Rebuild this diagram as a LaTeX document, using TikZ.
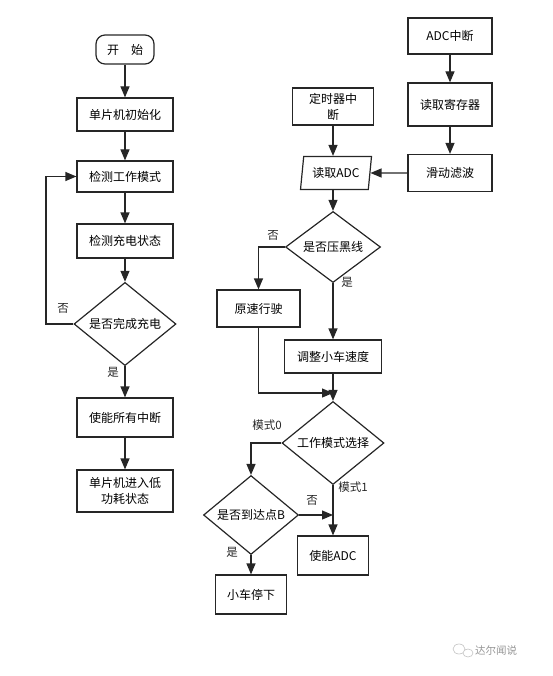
\documentclass[tikz,border=0pt]{standalone}
\usepackage{fontspec}
\setmainfont{Noto Sans CJK SC}
\usepackage{xcolor}
\usetikzlibrary{shapes.geometric, arrows.meta, positioning}
\definecolor{dark}{RGB}{38, 38, 38}
\definecolor{mark}{RGB}{150, 150, 150}
\tikzset{
    box/.style={rectangle, draw=dark, line width=1.2pt, align=center, font=\fontsize{12}{16}\selectfont, inner sep=2pt, minimum width=96pt},
    term/.style={box, rounded corners=9pt, minimum width=58pt, minimum height=29pt},
    dec/.style={diamond, draw=dark, line width=1.2pt, align=center, font=\fontsize{12}{16}\selectfont, inner sep=0pt},
    io/.style={trapezium, trapezium left angle=78, trapezium right angle=102, trapezium stretches body=true, draw=dark, line width=1.2pt, font=\fontsize{12}{16}\selectfont, inner xsep=1pt, inner ysep=2pt, minimum width=71pt, minimum height=33pt},
    lbl/.style={font=\fontsize{11.5}{14}\selectfont, text=dark},
    arr/.style={-{Triangle[length=11pt, width=9pt]}, line width=1.2pt, dark}
}
\begin{document}
\begin{tikzpicture}[x=1pt, y=-1pt]
    \useasboundingbox (0,0) rectangle (553,676);
    % left: charging
    \node[term] (start) at (125,49.5) {开\quad 始};
    \node[box, minimum height=33pt] (init) at (125,114.5) {单片机初始化};
    \node[box, minimum height=31pt] (mode) at (125,176.5) {检测工作模式};
    \node[box, minimum height=34pt] (charge) at (125,241) {检测充电状态};
    \node[dec, minimum width=102pt, minimum height=66pt] (done) at (125,324) {是否完成充电};
    \node[box, minimum height=39pt] (enint) at (125,417.5) {使能所有中断};
    \node[box, minimum height=42pt] (sleep) at (125,491) {单片机进入低\\功耗状态};
    \coordinate (loop) at (46,324);
    \draw[arr] (start)--(init); \draw[arr] (init)--(mode); \draw[arr] (mode)--(charge); \draw[arr] (charge)--(done);
    \draw[arr] (done.west)--(loop)|-(mode.west); \draw[arr] (done)--(enint); \draw[arr] (enint)--(sleep);
    \node[lbl] (no1) at (63,308) {否};
    \node[lbl] (yes1) at (113,372) {是};
    % right: interrupts
    \node[box, minimum width=84pt, minimum height=36pt] (adcint) at (450,36) {ADC中断};
    \node[box, minimum width=84pt, minimum height=43pt] (readreg) at (450,104.5) {读取寄存器};
    \node[box, minimum width=84pt, minimum height=37pt] (filter) at (450,173) {滑动滤波};
    \node[box, minimum width=81pt, minimum height=37pt] (timer) at (333,106.5) {定时器中\\断};
    \node[io] (readadc) at (336,173) {读取ADC};
    \node[dec, minimum width=95pt, minimum height=52pt] (line) at (333,247) {是否压黑线};
    \node[box, minimum width=83pt, minimum height=37pt] (keep) at (258.5,308.5) {原速行驶};
    \node[box, minimum width=97pt, minimum height=33pt] (adjust) at (333,356.5) {调整小车速度};
    \node[dec, minimum width=102pt, minimum height=52pt] (sel) at (333,443) {工作模式选择};
    \node[dec, minimum width=95pt, minimum height=60pt] (reach) at (251,515) {是否到达点B};
    \node[box, minimum width=71pt, minimum height=39pt] (enadc) at (333,555.5) {使能ADC};
    \node[box, minimum width=71pt, minimum height=39pt] (stop) at (251,594.5) {小车停下};
    \coordinate (merge) at (333,393);
    \coordinate (join) at (333,515);
    \draw[arr] (adcint)--(readreg); \draw[arr] (readreg)--(filter); \draw[arr] (filter)--(readadc.east);
    \draw[arr] (timer)--(timer|-readadc.north); \draw[arr] (readadc.south-|line)--(line);
    \draw[arr] (line.west)-|(keep); \draw[arr] (line)--(adjust); \draw[arr] (keep)|-(merge); \draw[arr] (adjust)--(sel);
    \draw[arr] (sel.west)-|(reach); \draw[arr] (sel)--(enadc); \draw[arr] (reach.east)--(join); \draw[arr] (reach)--(stop);
    \node[lbl] (no2) at (273,235) {否};
    \node[lbl] (yes2) at (347,282) {是};
    \node[lbl] (m0) at (267,425) {模式0};
    \node[lbl] (m1) at (353,487) {模式1};
    \node[lbl] (no3) at (312,500) {否};
    \node[lbl] (yes3) at (232,552) {是};
    % watermark
    \draw[mark!60, line width=0.6pt] (459,649) ellipse (6pt and 5pt) (468,653) ellipse (5pt and 4pt);
    \node[font=\fontsize{10.5}{12}\selectfont, text=mark] (wm) at (496,651) {达尔闻说};
\end{tikzpicture}
\end{document}
